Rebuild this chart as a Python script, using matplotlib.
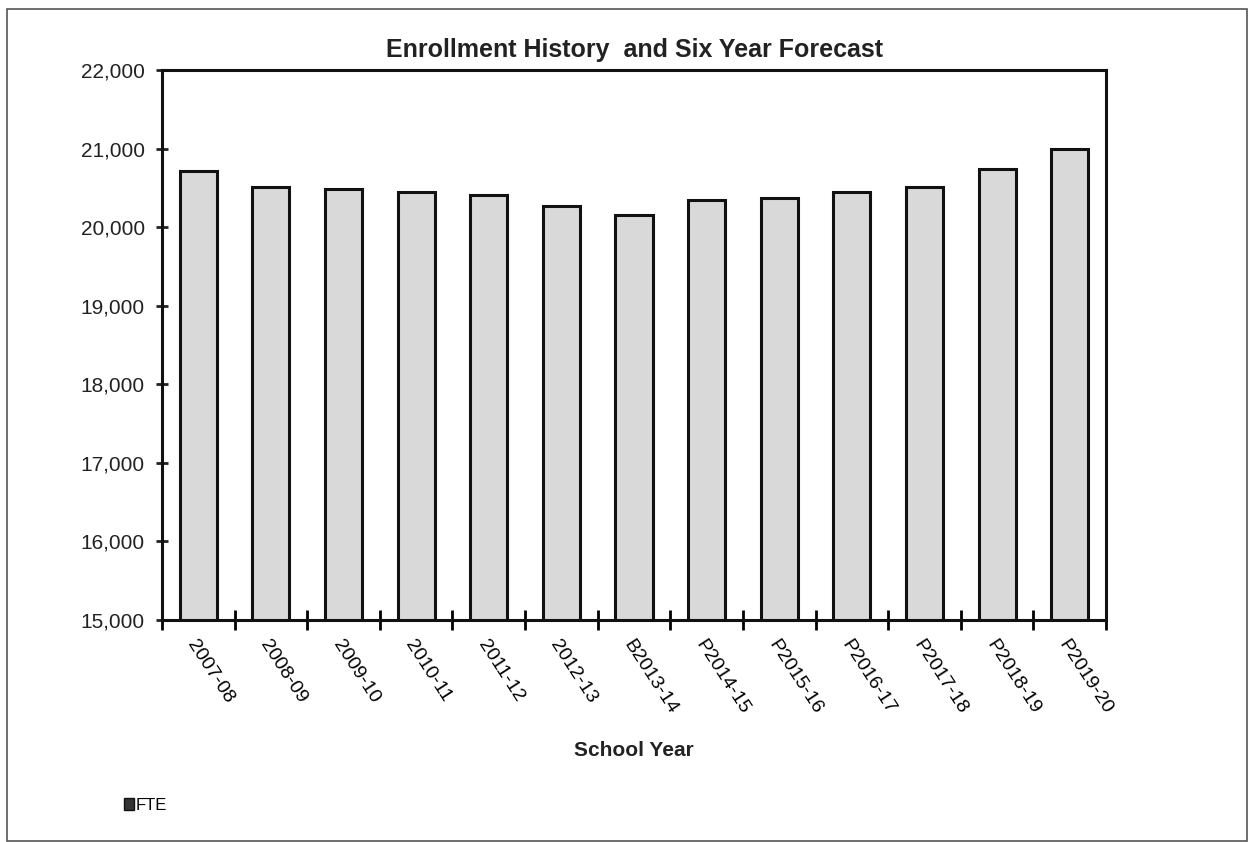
import matplotlib.pyplot as plt
import numpy as np
from matplotlib.patches import Patch, Rectangle
from matplotlib.ticker import FuncFormatter

plt.rcParams["font.family"] = ["Liberation Sans", "DejaVu Sans"]

# Enrollment data
years = ["2007-08", "2008-09", "2009-10", "2010-11", "2011-12", "2012-13",
         "B2013-14", "P2014-15", "P2015-16", "P2016-17", "P2017-18",
         "P2018-19", "P2019-20"]
fte = [20715, 20508, 20482, 20452, 20410, 20270, 20151,
       20346, 20370, 20444, 20508, 20740, 20991]

x = np.arange(len(years))

fig = plt.figure(figsize=(12.49, 8.42), dpi=100)
ax = fig.add_axes([162 / 1249, 1 - 620 / 842, (1106 - 162) / 1249, (620 - 70) / 842])

ax.bar(x, fte, width=0.51, color="#d9d9d9", edgecolor="#111111",
       linewidth=2.2, label="FTE")

ax.set_xlim(-0.5, len(years) - 0.5)
ax.set_ylim(15000, 22000)
ax.set_yticks(np.arange(15000, 22001, 1000))
ax.yaxis.set_major_formatter(FuncFormatter(lambda v, p: f"{int(v):,}"))
ax.tick_params(axis="y", direction="inout", length=9, width=2, labelsize=15,
               colors="#222222", pad=8)

# labels at bar centres, tick marks between the bars
ax.set_xticks(x)
ax.set_xticklabels(years, rotation=-57, ha="left", va="top",
                   rotation_mode="anchor", fontsize=14)
ax.tick_params(axis="x", which="major", length=0, pad=12)
ax.set_xticks(np.arange(-0.5, len(years)), minor=True)
ax.tick_params(axis="x", which="minor", direction="inout", length=14, width=2)

for s in ax.spines.values():
    s.set_linewidth(2.2)
    s.set_color("#111111")

ax.set_title("Enrollment History  and Six Year Forecast", fontsize=18,
             fontweight="bold", pad=9, color="#222222")
ax.set_xlabel("School Year", fontsize=15, fontweight="bold", labelpad=17,
              color="#222222")

# legend in lower-left corner
fig.legend(handles=[Patch(facecolor="#333333", edgecolor="#111111")],
           labels=["FTE"], loc="lower left", bbox_to_anchor=(0.087, 0.017),
           frameon=False, fontsize=12, handlelength=0.6, handleheight=0.8,
           handletextpad=0.1)

# outer frame of the chart
fig.patches.append(Rectangle((7 / 1249, 1 / 842), 1 - 9 / 1249, 1 - 10 / 842,
                             transform=fig.transFigure, fill=False,
                             edgecolor="#555555", linewidth=1.2))

plt.savefig("out.png", dpi=100)
